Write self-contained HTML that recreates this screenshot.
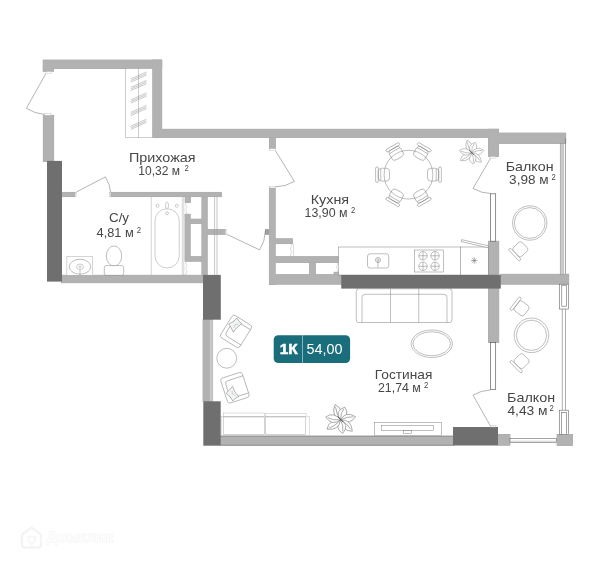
<!DOCTYPE html>
<html lang="ru">
<head>
<meta charset="utf-8">
<title>Планировка 1К 54,00</title>
<style>
html,body{margin:0;padding:0;background:#fff;}
body{width:600px;height:563px;overflow:hidden;position:relative;font-family:"Liberation Sans",sans-serif;}
svg{display:block;position:absolute;left:0;top:0;}
text{font-family:"Liberation Sans",sans-serif;}
</style>
</head>
<body>
<svg width="600" height="563" viewBox="0 0 600 563" style="will-change:transform">
<rect x="0" y="0" width="600" height="563" fill="#fff"/>
<g id="walls-light-outline" stroke="#9b9b9b" stroke-width="0.7">
<rect x="43.1" y="60" width="118.7" height="8.5" fill="#b2b2b2" />
<rect x="152.6" y="60" width="9.2" height="77.5" fill="#b2b2b2" />
<rect x="152.6" y="129.2" width="345.9" height="8.3" fill="#b2b2b2" />
<rect x="488.5" y="129.2" width="10.0" height="27.3" fill="#b2b2b2" />
<rect x="498.3" y="133" width="67.5" height="10.4" fill="#b2b2b2" />
<rect x="43.25" y="115.3" width="10.5" height="46.2" fill="#b1b1b1" />
<rect x="43.1" y="68" width="10.5" height="3.3" fill="#b2b2b2" />
<rect x="61.5" y="275.2" width="141.5" height="7.6" fill="#b2b2b2" />
<rect x="61.5" y="192.3" width="13.5" height="4.4" fill="#b2b2b2" />
<rect x="110.5" y="192.3" width="111.0" height="4.4" fill="#b2b2b2" />
<rect x="185.2" y="196.7" width="5.2" height="5.8" fill="#b2b2b2" />
<rect x="201.9" y="196.7" width="5.3" height="78.6" fill="#b2b2b2" />
<rect x="185" y="214.2" width="5.2" height="47.0" fill="#b2b2b2" />
<rect x="190.2" y="219.1" width="11.7" height="4.3" fill="#b2b2b2" />
<rect x="190.2" y="256.7" width="11.7" height="4.5" fill="#b2b2b2" />
<rect x="207.2" y="229.6" width="18.1" height="4.7" fill="#b2b2b2" />
<rect x="265.5" y="229.6" width="4.0" height="4.7" fill="#a0a0a0" />
<rect x="203" y="319.5" width="6.6" height="82.0" fill="#b2b2b2" />
<rect x="209.6" y="319.5" width="3.1" height="82.0" fill="#c8c8c8" />
<rect x="220.7" y="436.2" width="232.55" height="9.1" fill="#b2b2b2" />
<rect x="220.7" y="444.6" width="232.55" height="0.7" fill="#9a9a9a" />
<rect x="220.7" y="436.0" width="232.55" height="0.6" fill="#8e8e8e" />
<rect x="498.25" y="434.5" width="11.75" height="10.7" fill="#b2b2b2" />
<rect x="557" y="434.5" width="15.6" height="11.0" fill="#b2b2b2" />
<rect x="488.4" y="241.2" width="10.4" height="101.3" fill="#b2b2b2" />
<rect x="500.8" y="274.2" width="68.0" height="10.0" fill="#b2b2b2" />
<rect x="269.4" y="137.5" width="5.9" height="11.2" fill="#b2b2b2" />
<rect x="269.3" y="187.9" width="5.9" height="96.3" fill="#b2b2b2" />
<rect x="275" y="238.8" width="17.5" height="4.9" fill="#b2b2b2" />
<rect x="275" y="256.7" width="63.5" height="5.8" fill="#b2b2b2" />
<rect x="269.5" y="274.7" width="72.2" height="9.5" fill="#b2b2b2" />
<rect x="309.7" y="262.5" width="5.6" height="12.2" fill="#b2b2b2" />
<rect x="334" y="272.2" width="7" height="2.5" fill="#b2b2b2" />
</g>
<g id="walls-light">
<rect x="43.1" y="60" width="118.7" height="8.5" fill="#b2b2b2" />
<rect x="152.6" y="60" width="9.2" height="77.5" fill="#b2b2b2" />
<rect x="152.6" y="129.2" width="345.9" height="8.3" fill="#b2b2b2" />
<rect x="488.5" y="129.2" width="10.0" height="27.3" fill="#b2b2b2" />
<rect x="498.3" y="133" width="67.5" height="10.4" fill="#b2b2b2" />
<rect x="43.25" y="115.3" width="10.5" height="46.2" fill="#b1b1b1" />
<rect x="43.1" y="68" width="10.5" height="3.3" fill="#b2b2b2" />
<rect x="61.5" y="275.2" width="141.5" height="7.6" fill="#b2b2b2" />
<rect x="61.5" y="192.3" width="13.5" height="4.4" fill="#b2b2b2" />
<rect x="110.5" y="192.3" width="111.0" height="4.4" fill="#b2b2b2" />
<rect x="185.2" y="196.7" width="5.2" height="5.8" fill="#b2b2b2" />
<rect x="201.9" y="196.7" width="5.3" height="78.6" fill="#b2b2b2" />
<rect x="185" y="214.2" width="5.2" height="47.0" fill="#b2b2b2" />
<rect x="190.2" y="219.1" width="11.7" height="4.3" fill="#b2b2b2" />
<rect x="190.2" y="256.7" width="11.7" height="4.5" fill="#b2b2b2" />
<rect x="207.2" y="229.6" width="18.1" height="4.7" fill="#b2b2b2" />
<rect x="265.5" y="229.6" width="4.0" height="4.7" fill="#a0a0a0" />
<rect x="203" y="319.5" width="6.6" height="82.0" fill="#b2b2b2" />
<rect x="209.6" y="319.5" width="3.1" height="82.0" fill="#c8c8c8" />
<rect x="220.7" y="436.2" width="232.55" height="9.1" fill="#b2b2b2" />
<rect x="220.7" y="444.6" width="232.55" height="0.7" fill="#9a9a9a" />
<rect x="220.7" y="436.0" width="232.55" height="0.6" fill="#8e8e8e" />
<rect x="498.25" y="434.5" width="11.75" height="10.7" fill="#b2b2b2" />
<rect x="557" y="434.5" width="15.6" height="11.0" fill="#b2b2b2" />
<rect x="488.4" y="241.2" width="10.4" height="101.3" fill="#b2b2b2" />
<rect x="500.8" y="274.2" width="68.0" height="10.0" fill="#b2b2b2" />
<rect x="269.4" y="137.5" width="5.9" height="11.2" fill="#b2b2b2" />
<rect x="269.3" y="187.9" width="5.9" height="96.3" fill="#b2b2b2" />
<rect x="275" y="238.8" width="17.5" height="4.9" fill="#b2b2b2" />
<rect x="275" y="256.7" width="63.5" height="5.8" fill="#b2b2b2" />
<rect x="269.5" y="274.7" width="72.2" height="9.5" fill="#b2b2b2" />
<rect x="309.7" y="262.5" width="5.6" height="12.2" fill="#b2b2b2" />
<rect x="334" y="272.2" width="7" height="2.5" fill="#b2b2b2" />
</g>
<g id="walls-dark">
<rect x="47" y="160.9" width="15" height="120.7" fill="#6f6f6f" />
<rect x="203" y="274.9" width="17.8" height="44.8" fill="#6f6f6f" />
<rect x="203.3" y="401.3" width="17.4" height="44.4" fill="#6f6f6f" />
<rect x="453" y="427" width="45" height="18.5" fill="#6f6f6f" />
<rect x="341.25" y="274.8" width="159.55" height="13.8" fill="#6f6f6f" />
</g>
<g id="lines" fill="none" stroke="#5a5a5a" stroke-width="0.55">
<g stroke="#6a6a6a" stroke-width="0.5">
<path d="M46 73.3L26.4 108.3A40.6 40.6 0 0 0 44.7 114.5"/>
<path d="M76.25 192.1L105.3 176.9A33.6 33.6 0 0 1 110.7 192.1"/>
<path d="M275.3 150.5L294.4 181.4A36.3 36.3 0 0 1 275.3 186.8"/>
<path d="M226.7 234.3L259.6 249.9A36.4 36.4 0 0 0 265.4 230.5"/>
<path d="M490.8 157.8L473 188.4A35.4 35.4 0 0 0 490.8 193.5"/>
<path d="M490.2 425.5L473 395.2A34.8 34.8 0 0 1 490.2 390"/>
</g>
<g stroke="#b5b5b5" stroke-width="0.4" fill="#fff"><rect x="46" y="71.6" width="5.3" height="1.9"/><rect x="44.5" y="113.6" width="6.5" height="1.7"/><rect x="75.2" y="192.3" width="1.3" height="4.2"/><rect x="109.4" y="192.3" width="1.3" height="4.2"/><rect x="269.6" y="148.7" width="5.6" height="1.8"/><rect x="269.6" y="186.4" width="5.6" height="1.6"/><rect x="225.3" y="229.9" width="1.5" height="4.3"/><rect x="490" y="156.6" width="6" height="1.5"/><rect x="490.5" y="425.4" width="5.5" height="1.6"/></g>
<rect x="490.4" y="193.8" width="5.3" height="47.4" fill="#fff" stroke="#555" stroke-width="0.65"/>
<rect x="490.4" y="342.5" width="5.3" height="47" fill="#fff" stroke="#555" stroke-width="0.65"/>
<rect x="560.2" y="143.4" width="3" height="130.8" fill="#cdcdcd" stroke="#8c8c8c" stroke-width="0.5"/><path d="M565.45 138V274.2" stroke="#777" stroke-width="0.7"/>
<path d="M562.3 309V410.2M565.5 309V410.2" stroke="#777" stroke-width="0.6"/>
<rect x="559.5" y="284.2" width="9" height="24.8" fill="#fff"/><rect x="561.8" y="285.2" width="4.7" height="21" fill="#fff"/>
<rect x="559.3" y="410.2" width="9.4" height="24.5" fill="#fff"/><rect x="561.4" y="412.6" width="5.2" height="22.1" fill="#fff"/>
<rect x="510" y="438.4" width="46.5" height="4.2" fill="#fff"/><path d="M510 441.2H556.5" stroke="#aaa"/>
<path d="M214.6 196.7V275.3M217 196.7V275.3" stroke="#999"/>
</g>
<g id="furn" fill="#fff" stroke="#666" stroke-width="0.42">
<rect x="125.4" y="68.5" width="27.2" height="69" stroke="#8a8a8a"/><path d="M138.5 68.5V137.5" stroke="#8a8a8a"/>
<path d="M130.8 78.90L146.5 71.90" stroke="#777" stroke-width="0.4"/>
<path d="M130.8 80.50L146.5 73.50" stroke="#777" stroke-width="0.4"/>
<path d="M130.8 82.10L146.5 75.10" stroke="#777" stroke-width="0.4"/>
<path d="M130.8 87.40L146.5 80.40" stroke="#777" stroke-width="0.4"/>
<path d="M130.8 89.00L146.5 82.00" stroke="#777" stroke-width="0.4"/>
<path d="M130.8 90.60L146.5 83.60" stroke="#777" stroke-width="0.4"/>
<path d="M130.8 99.90L146.5 92.90" stroke="#777" stroke-width="0.4"/>
<path d="M130.8 101.50L146.5 94.50" stroke="#777" stroke-width="0.4"/>
<path d="M130.8 103.10L146.5 96.10" stroke="#777" stroke-width="0.4"/>
<path d="M130.8 112.40L146.5 105.40" stroke="#777" stroke-width="0.4"/>
<path d="M130.8 114.00L146.5 107.00" stroke="#777" stroke-width="0.4"/>
<path d="M130.8 115.60L146.5 108.60" stroke="#777" stroke-width="0.4"/>
<path d="M130.8 126.20L146.5 119.20" stroke="#777" stroke-width="0.4"/>
<path d="M130.8 127.80L146.5 120.80" stroke="#777" stroke-width="0.4"/>
<path d="M130.8 129.40L146.5 122.40" stroke="#777" stroke-width="0.4"/>
<path d="M151.25 196.7V275.3M182.3 196.7V275.3M183.8 196.7V275.3" stroke="#999"/>
<rect x="155" y="208.75" width="24.25" height="59.25" rx="12.1" stroke="#888"/>
<circle cx="157.5" cy="205.75" r="1.5" stroke="#888"/><circle cx="176.75" cy="205.75" r="1.5" stroke="#888"/><ellipse cx="167" cy="205.5" rx="1.5" ry="3.5" stroke="#888"/><circle cx="167" cy="213.25" r="1.5" stroke="#888"/>
<path d="M186.3 202.5q-1.2 1.5 0 3t0 3t0 3t0 2.7M186.3 261.2q-1.2 1.5 0 3t0 3t0 3t0 3t0 2.1M291 243.7q1.4 1.6 0 3.2t0 3.2t0 3.2t0 3.4M293.6 243.7V256.7M337 262.5q1.2 1.5 0 3t0 3t0 3.7M341 259V272" stroke="#aaa" stroke-width="0.4" fill="none"/>
<rect x="66.9" y="256.3" width="25.8" height="19" stroke="#999"/><ellipse cx="80" cy="266.7" rx="10.7" ry="7.5"/><ellipse cx="80" cy="266.7" rx="3.5" ry="2.7" stroke="#888"/><circle cx="80" cy="266.7" r="1" stroke="#888"/><path d="M80 269.4V275"/>
<ellipse cx="114" cy="256" rx="7.7" ry="10"/><rect x="104.3" y="265.6" width="19.4" height="9.7" rx="2"/>
<rect x="338.5" y="247" width="121.75" height="28"/><rect x="460.25" y="247" width="28" height="28"/>
<rect x="367.5" y="253.75" width="21.25" height="14.25" rx="2.5"/><circle cx="378" cy="260" r="2.6"/><circle cx="378" cy="260" r="1.1"/><path d="M378 261V267.5"/>
<rect x="414.25" y="250" width="29.5" height="22"/>
<circle cx="423" cy="255.75" r="4.2"/><path d="M418.8 255.75H427.2M423 251.55V259.95"/>
<circle cx="423" cy="266.25" r="4.2"/><path d="M418.8 266.25H427.2M423 262.05V270.45"/>
<circle cx="435" cy="255.75" r="4.2"/><path d="M430.8 255.75H439.2M435 251.55V259.95"/>
<circle cx="435" cy="266.25" r="4.2"/><path d="M430.8 266.25H439.2M435 262.05V270.45"/>
<g transform="rotate(13 461.5 240.5)"><rect x="461.5" y="239.6" width="27.5" height="2"/></g>
<path d="M474.25 257.2V263.8M471 260.5H477.5M471.9 258.2L476.6 262.8M476.6 258.2L471.9 262.8" stroke-width="0.5"/>
<rect x="356.25" y="288.75" width="95.75" height="33.75" rx="2.5"/>
<path d="M362 322.5V297.5Q362 294.25 365.25 294.25H443.75Q447 294.25 447 297.5V322.5M390.5 288.75V322.5M418.75 288.75V322.5"  fill="none"/>
<ellipse cx="431.75" cy="343.75" rx="20.6" ry="13.75"/><ellipse cx="431.75" cy="343.75" rx="18.8" ry="12"/>
<g fill="none" stroke="#6e6e6e" stroke-width="0.45">
<circle cx="408.5" cy="174.65" r="24.4"/>
<g transform="translate(408.5 174.65) rotate(0)"><rect x="19" y="-6.4" width="11.2" height="12.8" rx="3.2"/><path d="M27.6 -5.9Q28.1 0 27.6 5.9"/><rect x="30.2" y="-7.7" width="2.7" height="15.4" rx="1.3"/></g>
<g transform="translate(408.5 174.65) rotate(60)"><rect x="19" y="-6.4" width="11.2" height="12.8" rx="3.2"/><path d="M27.6 -5.9Q28.1 0 27.6 5.9"/><rect x="30.2" y="-7.7" width="2.7" height="15.4" rx="1.3"/></g>
<g transform="translate(408.5 174.65) rotate(120)"><rect x="19" y="-6.4" width="11.2" height="12.8" rx="3.2"/><path d="M27.6 -5.9Q28.1 0 27.6 5.9"/><rect x="30.2" y="-7.7" width="2.7" height="15.4" rx="1.3"/></g>
<g transform="translate(408.5 174.65) rotate(180)"><rect x="19" y="-6.4" width="11.2" height="12.8" rx="3.2"/><path d="M27.6 -5.9Q28.1 0 27.6 5.9"/><rect x="30.2" y="-7.7" width="2.7" height="15.4" rx="1.3"/></g>
<g transform="translate(408.5 174.65) rotate(240)"><rect x="19" y="-6.4" width="11.2" height="12.8" rx="3.2"/><path d="M27.6 -5.9Q28.1 0 27.6 5.9"/><rect x="30.2" y="-7.7" width="2.7" height="15.4" rx="1.3"/></g>
<g transform="translate(408.5 174.65) rotate(300)"><rect x="19" y="-6.4" width="11.2" height="12.8" rx="3.2"/><path d="M27.6 -5.9Q28.1 0 27.6 5.9"/><rect x="30.2" y="-7.7" width="2.7" height="15.4" rx="1.3"/></g>
</g>
<circle cx="529.75" cy="223" r="17.2"/><circle cx="529.75" cy="223" r="15.4"/>
<circle cx="531.5" cy="335.3" r="17.3"/><circle cx="531.5" cy="335.3" r="15.1"/>
<g transform="translate(520.3 249.3) rotate(-133.4)"><rect x="-6.1" y="-6.1" width="12.2" height="12.2" rx="2.8"/><rect x="-8" y="-9" width="16" height="2.7" rx="1.35"/></g>
<g transform="translate(521.6 308.4) rotate(-52.5)"><rect x="-6.1" y="-6.1" width="12.2" height="12.2" rx="2.8"/><rect x="-8" y="-9" width="16" height="2.7" rx="1.35"/></g>
<g transform="translate(521.6 361.2) rotate(-135)"><rect x="-6.1" y="-6.1" width="12.2" height="12.2" rx="2.8"/><rect x="-8" y="-9" width="16" height="2.7" rx="1.35"/></g>
<circle cx="226.75" cy="358.25" r="9.9"/>
<rect x="221.25" y="416.25" width="88.25" height="18.9" stroke="#b5b5b5"/>
<rect x="223.75" y="413" width="40.5" height="3.25" stroke="#b0b0b0"/><rect x="265.75" y="413.75" width="40.3" height="2.5" stroke="#b0b0b0"/>
<rect x="223.75" y="417" width="40.5" height="17.3" stroke="#999"/><rect x="265.75" y="417" width="40" height="17.3" stroke="#999"/>
<rect x="374.25" y="422.5" width="67" height="13.25"/><rect x="381.25" y="425.5" width="52.5" height="5.25"/><rect x="403.25" y="430.75" width="8.5" height="3"/>
</g>
<g id="furn2" fill="#fff" stroke="#666" stroke-width="0.42">
<g transform="translate(233.3 314.3) rotate(32)"><rect x="0" y="0" width="22.7" height="26.2" rx="2.6"/><path d="M22.7 4H6.7Q3.7 4 3.7 7V19Q3.7 22 6.7 22H22.7" fill="none"/><path d="M1.3 10.6Q4.4 6.8 5.2 1.2Q8.5 3.6 12.2 3.4Q9.3 9 9.5 15.2Q5 12.2 1.3 10.6Z" fill="#f1f6f4" stroke="#7d7d7d" stroke-width="0.5"/><path d="M7 8L9.4 5.4M7 8L7.6 11" stroke="#999" stroke-width="0.4"/></g>
<g transform="translate(228.2 403.7) rotate(-18) scale(1 -1)"><rect x="0" y="0" width="22.7" height="26.2" rx="2.6"/><path d="M22.7 4H6.7Q3.7 4 3.7 7V19Q3.7 22 6.7 22H22.7" fill="none"/><path d="M1.3 10.6Q4.4 6.8 5.2 1.2Q8.5 3.6 12.2 3.4Q9.3 9 9.5 15.2Q5 12.2 1.3 10.6Z" fill="#f1f6f4" stroke="#7d7d7d" stroke-width="0.5"/><path d="M7 8L9.4 5.4M7 8L7.6 11" stroke="#999" stroke-width="0.4"/></g>
<g transform="translate(340.6 419.9) scale(1)" stroke="#666" stroke-width="0.5" fill="#fff">
<g transform="rotate(-110)"><path d="M0 0Q7.34 -8.07 16.30 0Q8.97 7.22 0 0Z"/><path d="M0 0Q8.15 -2.12 13.86 -0.3" fill="none"/></g>
<g transform="rotate(-72)"><path d="M0 0Q6.08 -9.03 13.50 0Q7.43 8.07 0 0Z"/><path d="M0 0Q6.75 -2.38 11.47 -0.3" fill="none"/></g>
<g transform="rotate(-12)"><path d="M0 0Q6.89 -8.07 15.30 0Q8.42 7.22 0 0Z"/><path d="M0 0Q7.65 -2.12 13.01 -0.3" fill="none"/></g>
<g transform="rotate(44)"><path d="M0 0Q7.34 -8.07 16.30 0Q8.97 7.22 0 0Z"/><path d="M0 0Q8.15 -2.12 13.86 -0.3" fill="none"/></g>
<g transform="rotate(81)"><path d="M0 0Q6.17 -8.55 13.70 0Q7.54 7.65 0 0Z"/><path d="M0 0Q6.85 -2.25 11.64 -0.3" fill="none"/></g>
<g transform="rotate(145.6)"><path d="M0 0Q7.38 -8.07 16.40 0Q9.02 7.22 0 0Z"/><path d="M0 0Q8.20 -2.12 13.94 -0.3" fill="none"/></g>
<g transform="rotate(-169)"><path d="M0 0Q6.84 -8.07 15.20 0Q8.36 7.22 0 0Z"/><path d="M0 0Q7.60 -2.12 12.92 -0.3" fill="none"/></g>
<path d="M-3 -3.5L3 2.5" stroke="#555" stroke-width="0.9"/></g>
<g transform="translate(471.6 152.9) scale(0.83)" stroke="#7a7a7a" stroke-width="0.5" fill="#fff">
<g transform="rotate(-110)"><path d="M0 0Q7.34 -8.07 16.30 0Q8.97 7.22 0 0Z"/><path d="M0 0Q8.15 -2.12 13.86 -0.3" fill="none"/></g>
<g transform="rotate(-72)"><path d="M0 0Q6.08 -9.03 13.50 0Q7.43 8.07 0 0Z"/><path d="M0 0Q6.75 -2.38 11.47 -0.3" fill="none"/></g>
<g transform="rotate(-12)"><path d="M0 0Q6.89 -8.07 15.30 0Q8.42 7.22 0 0Z"/><path d="M0 0Q7.65 -2.12 13.01 -0.3" fill="none"/></g>
<g transform="rotate(44)"><path d="M0 0Q7.34 -8.07 16.30 0Q8.97 7.22 0 0Z"/><path d="M0 0Q8.15 -2.12 13.86 -0.3" fill="none"/></g>
<g transform="rotate(81)"><path d="M0 0Q6.17 -8.55 13.70 0Q7.54 7.65 0 0Z"/><path d="M0 0Q6.85 -2.25 11.64 -0.3" fill="none"/></g>
<g transform="rotate(145.6)"><path d="M0 0Q7.38 -8.07 16.40 0Q9.02 7.22 0 0Z"/><path d="M0 0Q8.20 -2.12 13.94 -0.3" fill="none"/></g>
<g transform="rotate(-169)"><path d="M0 0Q6.84 -8.07 15.20 0Q8.36 7.22 0 0Z"/><path d="M0 0Q7.60 -2.12 12.92 -0.3" fill="none"/></g>
<path d="M-3 -3.5L3 2.5" stroke="#555" stroke-width="0.9"/></g>
</g>
<g id="badge">
<rect x="273.7" y="335.2" width="76.4" height="27.9" rx="4.5" fill="#1a6d7b"/>
<rect x="302.3" y="335.2" width="0.7" height="27.9" fill="#b5d6db"/>
<text x="279.8" y="353.9" font-size="14.6" font-weight="bold" fill="#fff" stroke="#fff" stroke-width="0.5" textLength="18" lengthAdjust="spacingAndGlyphs">1К</text>
<text x="306.4" y="353.8" font-size="14" fill="#fff" textLength="36" lengthAdjust="spacingAndGlyphs">54,00</text>
</g>
<g id="labels" fill="#474747">
<text x="129.00" y="161.55" font-size="13.5" textLength="66.5" lengthAdjust="spacingAndGlyphs">Прихожая</text><text x="138.30" y="174.70" font-size="13.5" textLength="41.60" lengthAdjust="spacingAndGlyphs">10,32 м</text><text x="184.40" y="170.90" font-size="8.3" textLength="4.3" lengthAdjust="spacingAndGlyphs">2</text>
<text x="109.00" y="221.55" font-size="13.5" textLength="20" lengthAdjust="spacingAndGlyphs">С/у</text><text x="96.60" y="237.20" font-size="13.5" textLength="37.20" lengthAdjust="spacingAndGlyphs">4,81 м</text><text x="136.70" y="233.40" font-size="8.3" textLength="4.3" lengthAdjust="spacingAndGlyphs">2</text>
<text x="310.70" y="204.30" font-size="13.5" textLength="38.4" lengthAdjust="spacingAndGlyphs">Кухня</text><text x="304.50" y="217.20" font-size="13.5" textLength="43.00" lengthAdjust="spacingAndGlyphs">13,90 м</text><text x="350.90" y="213.40" font-size="8.3" textLength="4.3" lengthAdjust="spacingAndGlyphs">2</text>
<text x="505.75" y="171.05" font-size="13.5" textLength="47.8" lengthAdjust="spacingAndGlyphs">Балкон</text><text x="509.10" y="184.20" font-size="13.5" textLength="39.60" lengthAdjust="spacingAndGlyphs">3,98 м</text><text x="551.50" y="180.40" font-size="8.3" textLength="4.3" lengthAdjust="spacingAndGlyphs">2</text>
<text x="374.80" y="379.05" font-size="13.5" textLength="57.6" lengthAdjust="spacingAndGlyphs">Гостиная</text><text x="378.00" y="392.20" font-size="13.5" textLength="42.80" lengthAdjust="spacingAndGlyphs">21,74 м</text><text x="424.10" y="388.40" font-size="8.3" textLength="4.3" lengthAdjust="spacingAndGlyphs">2</text>
<text x="507.00" y="401.90" font-size="13.5" textLength="48.1" lengthAdjust="spacingAndGlyphs">Балкон</text><text x="507.40" y="415.10" font-size="13.5" textLength="40.20" lengthAdjust="spacingAndGlyphs">4,43 м</text><text x="549.50" y="411.30" font-size="8.3" textLength="4.3" lengthAdjust="spacingAndGlyphs">2</text>
</g>
<g id="watermark" stroke-linejoin="round">
<path d="M22 534.5L31.5 527.8L41 534.5V544.5Q41 547.5 38 547.5H25Q22 547.5 22 544.5Z" fill="none" stroke="#f4f4f4" stroke-width="2.4"/>
<path d="M28.5 541V536.5H35V541L31.5 544.5Z" fill="none" stroke="#f6f6f6" stroke-width="1.6"/>
<text x="46.5" y="542.3" font-size="15.5" font-weight="bold" fill="#fdfdfd" stroke="#f2f2f2" stroke-width="1" paint-order="stroke" textLength="67" lengthAdjust="spacingAndGlyphs">Домклик</text>
</g>
</svg>
</body>
</html>
